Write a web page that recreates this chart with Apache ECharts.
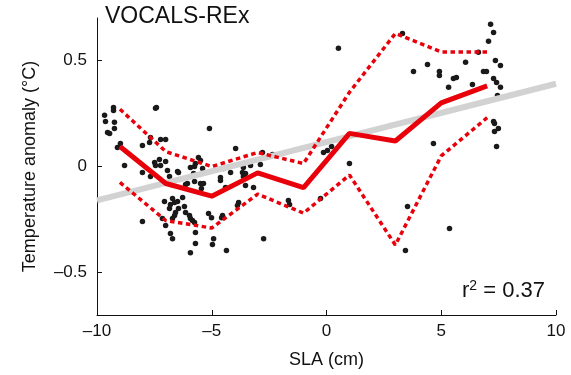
<!DOCTYPE html>
<html>
<head>
<meta charset="utf-8">
<script src="https://cdn.jsdelivr.net/npm/echarts@6/dist/echarts.min.js"></script>
<style>
  html, body { margin: 0; padding: 0; background: #fff; }
  #chart { width: 571px; height: 375px; }
</style>
</head>
<body>
<div id="chart"></div>
<script>
// 散点数据：SLA (cm) 与 温度异常 (°C)
const sla = [
  -9.28, -9.28, -9.67, -9.63, -9.24, -9.24, -9.54, -9.45, -7.45, -7.41,
  -8.98, -9.11, -8.80, -8.02, -7.71, -7.67, -7.23, -7.01, -7.28, -7.49,
  -7.45, -7.23, -7.01, -8.02, -6.93, -6.84, -6.49, -5.93, -5.75,
  -7.67, -6.14, -5.75, -7.06, -6.71, -6.62, -6.49, -6.27, -6.80, -6.19,
  -6.84, -6.58, -6.14, -5.97, -5.93, -6.62, -6.71, -7.15, -7.01, -5.75,
  -8.02, -6.80, -6.71, -5.71, -5.93,
  -5.10, -3.96, -2.79, -2.35, -5.58, -5.49, -5.71, -5.40, -4.49, -4.18,
  -3.66, -3.53, -2.88, -3.62, -4.62, -4.62, -5.49, -5.36, -5.45, -3.53,
  -3.18, -4.40, -3.83, -1.66, -1.61, -3.88, -5.14, -5.01, -4.57, -4.53,
  -5.71, -4.92, -4.97, -4.36, -2.74, -3.31, -3.62, -5.79, -6.45, -6.06,
  -5.84, -6.45,
  0.52, 3.31, -0.13, 0.04, 0.22, 1.00, -0.26, 3.53, 3.44, 5.36,
  7.15, 7.28, 7.06, 6.62, 7.36, 7.58, 3.79, 4.40, 4.92, 4.92,
  5.53, 5.66, 6.06, 6.84, 6.97, 5.32, 6.36, 7.28, 7.41, 7.58,
  7.45, 7.28, 7.32, 7.49, 7.32, 4.66, 7.41
]
const anomaly = [
  0.278, 0.264, 0.241, 0.212, 0.208, 0.179, 0.160, 0.156, 0.274, 0.278,
  0.108, 0.090, 0.005, 0.099, 0.113, 0.137, 0.127, 0.127, 0.033, 0.019,
  0.005, 0.005, 0.024, -0.028, -0.019, -0.047, -0.024, -0.005, 0.000,
  -0.047, -0.085, -0.071, -0.165, -0.151, -0.170, -0.165, -0.146, -0.179, -0.189,
  -0.198, -0.217, -0.217, -0.231, -0.245, -0.231, -0.245, -0.245, -0.278, -0.264,
  -0.259, -0.316, -0.340, -0.363, -0.406,
  0.179, 0.085, 0.066, 0.057, 0.042, 0.028, 0.014, -0.009, -0.009, -0.028,
  -0.028, -0.033, 0.009, -0.047, -0.052, -0.066, -0.080, -0.080, -0.104, -0.090,
  -0.099, -0.099, -0.170, -0.160, -0.179, -0.184, -0.222, -0.241, -0.241, -0.231,
  -0.311, -0.340, -0.368, -0.396, -0.340, 0.005, -0.005, -0.033, -0.028, -0.080,
  -0.255, -0.198,
  0.557, 0.627, 0.066, 0.075, 0.094, 0.014, -0.151, -0.189, -0.396, -0.292,
  0.670, 0.632, 0.590, 0.538, 0.500, 0.476, 0.448, 0.481, 0.448, 0.429,
  0.415, 0.420, 0.491, 0.448, 0.448, 0.373, 0.387, 0.415, 0.396, 0.373,
  0.335, 0.212, 0.203, 0.179, 0.165, 0.108, 0.094
]

// 分箱均值与上下界
const binCenters = [-9, -7, -5, -3, -1, 1, 3, 5, 7]
const binMean = [0.094, -0.08, -0.14, -0.03, -0.10, 0.156, 0.12, 0.30, 0.38]
const binUpper = [0.27, 0.07, 0.0, 0.066, 0.014, 0.35, 0.627, 0.54, 0.54]
const binLower = [-0.075, -0.255, -0.29, -0.13, -0.22, -0.04, -0.37, 0.05, 0.23]

// 线性回归线端点
const fitX = [-10, 10]
const fitY = [-0.16, 0.39]

const yTicks = [-0.5, 0, 0.5]

const FONT = '"Liberation Sans", Arial, Helvetica, sans-serif'
const zip = (a, b) => a.map((v, i) => [v, b[i]])
const minus = v => String(v).replace('-', '\u2013')

const chart = echarts.init(document.getElementById('chart'))

const option = {
  animation: false,
  grid: { left: 97, right: 15, top: 18, bottom: 60 },
  xAxis: {
    type: 'value',
    min: -10,
    max: 10,
    interval: 5,
    name: 'SLA (cm)',
    nameLocation: 'middle',
    nameGap: 36,
    nameTextStyle: { color: '#111', fontSize: 18, fontFamily: FONT },
    axisLine: { show: true, onZero: false, lineStyle: { color: '#111', width: 1 } },
    axisTick: { show: true, inside: true, length: 5, lineStyle: { color: '#111' } },
    axisLabel: { color: '#111', fontSize: 17, fontFamily: FONT, margin: 8, formatter: minus },
    splitLine: { show: false }
  },
  yAxis: {
    type: 'value',
    min: -0.7,
    max: 0.7,
    name: 'Temperature anomaly (°C)',
    nameLocation: 'middle',
    nameGap: 58,
    nameTextStyle: { color: '#111', fontSize: 18, fontFamily: FONT },
    axisLine: { show: true, onZero: false, lineStyle: { color: '#111', width: 1 } },
    axisTick: { show: true, inside: true, length: 5, customValues: yTicks, lineStyle: { color: '#111' } },
    axisLabel: { color: '#111', fontSize: 17, fontFamily: FONT, margin: 10, customValues: yTicks, formatter: minus },
    splitLine: { show: false }
  },
  graphic: [
    {
      type: 'text',
      left: 105,
      top: 5,
      style: { text: 'VOCALS-REx', fontSize: 23, fontFamily: FONT, fill: '#111' }
    },
    {
      type: 'text',
      right: 26,
      top: 279,
      style: {
        text: 'r{sup|2} = 0.37',
        fontSize: 22,
        fontFamily: FONT,
        fill: '#111',
        rich: {
          sup: { fontSize: 14, fontFamily: FONT, fill: '#111', verticalAlign: 'top', padding: [0, 0, 10, 0] }
        }
      }
    }
  ],
  series: [
    {
      type: 'scatter',
      data: zip(sla, anomaly),
      symbolSize: 5.5,
      itemStyle: { color: '#1a1a1a', opacity: 1 },
      z: 2
    },
    {
      type: 'line',
      data: zip(fitX, fitY),
      symbol: 'none',
      lineStyle: { color: '#d2d2d2', width: 6 },
      z: 3
    },
    {
      type: 'line',
      data: zip(binCenters, binUpper),
      symbol: 'none',
      lineStyle: { color: '#e8000b', width: 3.5, type: [4.5, 3.5] },
      z: 4
    },
    {
      type: 'line',
      data: zip(binCenters, binLower),
      symbol: 'none',
      lineStyle: { color: '#e8000b', width: 3.5, type: [4.5, 3.5] },
      z: 4
    },
    {
      type: 'line',
      data: zip(binCenters, binMean),
      symbol: 'none',
      lineStyle: { color: '#e8000b', width: 5 },
      z: 5
    }
  ]
}

chart.setOption(option)
window.addEventListener('resize', () => chart.resize())
</script>
</body>
</html>
